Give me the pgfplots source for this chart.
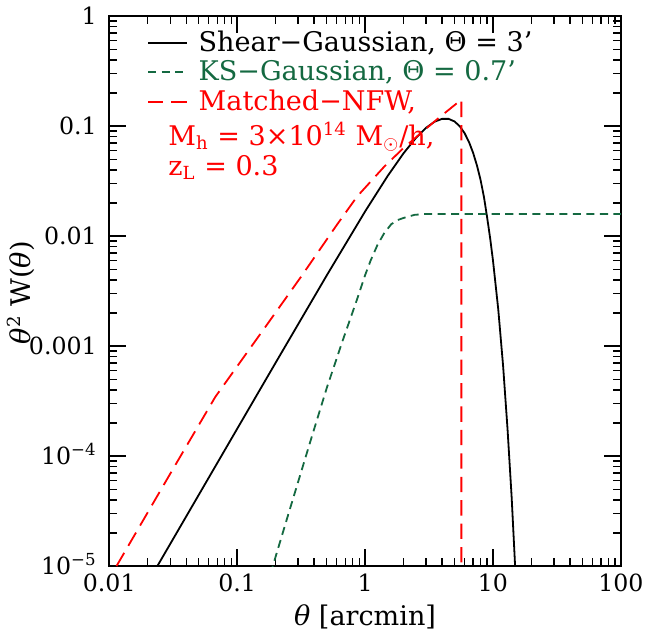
\documentclass[border=0pt]{standalone}
\usepackage{fontspec}
\setmainfont{DejaVu Serif}
\usepackage{pgfplots}
\pgfplotsset{compat=1.18}
\definecolor{ksgreen}{RGB}{20,105,65}
\newcommand{\ff}{\fontsize{10.5pt}{12.6pt}\selectfont}
\newcommand{\fl}{\fontsize{12pt}{13.6pt}\selectfont}

\begin{document}
\begin{tikzpicture}
\begin{axis}[
  scale only axis,
  width=227pt, height=244pt,
  xmode=log, ymode=log,
  xmin=0.01, xmax=100, ymin=1e-5, ymax=1,
  xtick={0.01,0.1,1,10,100},
  xticklabels={0.01,0.1,1,10,100},
  ytick={1e-5,1e-4,1e-3,0.01,0.1,1},
  yticklabels={10\textsuperscript{−5},10\textsuperscript{−4},0.001,0.01,0.1,1},
  /pgf/number format/assume math mode=true,
  tick label style={font=\ff},
  yticklabel style={text height=7.6pt, text depth=0pt, xshift=-2pt},
  label style={font=\fl},
  xlabel={\textit{θ} [arcmin]},
  ylabel={\textit{θ}\textsuperscript{2} W(\textit{θ})},
  xlabel style={at={(axis description cs:0.5,-0.092)}, anchor=center},
  ylabel style={at={(axis description cs:-0.172,0.497)}, anchor=center},
  tick align=inside,
  major tick length=7.6pt,
  minor tick length=3.6pt,
  every tick/.style={black, line width=0.6pt},
  axis line style={line width=0.9pt},
  legend style={at={(0.06,0.99)}, anchor=north west, draw=none, fill=none,
    font=\fl, row sep=-1.5pt},
  legend cell align=left,
  clip=true,
]
% Shear-Gaussian, Theta = 3'
\addplot[black, line width=0.8pt] coordinates {
  (0.02,7.07e-6) (0.05,4.42e-5) (0.1,1.768e-4) (0.2,7.06e-4) (0.5,4.36e-3)
  (1,0.01673) (1.5,0.03511) (2,0.05664) (2.5,0.07811) (3,0.09653)
  (3.5,0.10968) (4,0.11632) (4.5,0.11626) (5,0.11026) (5.5,0.09960)
  (6,0.08616) (6.5,0.07146) (7,0.05694) (7.5,0.04371) (8,0.03232)
  (8.5,0.02270) (9,0.0148) (9.5,0.0096) (10,0.0060) (11,0.00215)
  (12,6.6e-4) (13,1.75e-4) (14,4.2e-5) (15,8.5e-6) (15.5,3.5e-6)
};
\addlegendentry{\hspace{3pt}Shear−Gaussian, Θ = 3’}
% KS-Gaussian, Theta = 0.7'
\addplot[ksgreen, line width=0.8pt, dash pattern=on 3.6pt off 2.4pt] coordinates {
  (0.17,6.5e-6) (0.19,1.0e-5) (0.25,2.9e-5) (0.382,1.48e-4) (0.5,4.1e-4)
  (0.659,1.07e-3) (0.85,2.5e-3) (1.0,4.4e-3) (1.106,6.0e-3) (1.25,8.3e-3)
  (1.41,0.0106) (1.6,0.0128) (1.8,0.0140) (2.03,0.0147) (2.44,0.0156)
  (3,0.0159) (100,0.0159)
};
\addlegendentry{\hspace{3pt}\textcolor{ksgreen}{KS−Gaussian, Θ = 0.7’}}
% Matched-NFW
\addplot[red, line width=0.8pt, dash pattern=on 6.8pt off 3.6pt,
  legend image post style={red}] coordinates {
  (0.0114,1.0e-5) (0.0325,8.11e-5) (0.0675,3.45e-4) (0.168,1.52e-3)
  (0.316,4.27e-3) (0.603,0.01268) (0.867,0.0229) (1.41,0.0427)
  (1.97,0.0622) (2.69,0.0851) (3.73,0.1175) (5.66,0.174) (5.66,1e-6)
};
\addlegendentry{\hspace{3pt}\textcolor{red}{Matched−NFW,}}
\node[anchor=north west, align=left, text=red, font=\fl]
  at (rel axis cs:0.10,0.822)
  {M\textsubscript{h} = 3×10\textsuperscript{14} M$_{\odot}$/h,\\
   z\textsubscript{L} = 0.3};
% page margins as in the reference
\path (axis description cs:-0.2416,-0.1418) rectangle (axis description cs:1.0475,1.0258);
\end{axis}
\end{tikzpicture}
\end{document}
